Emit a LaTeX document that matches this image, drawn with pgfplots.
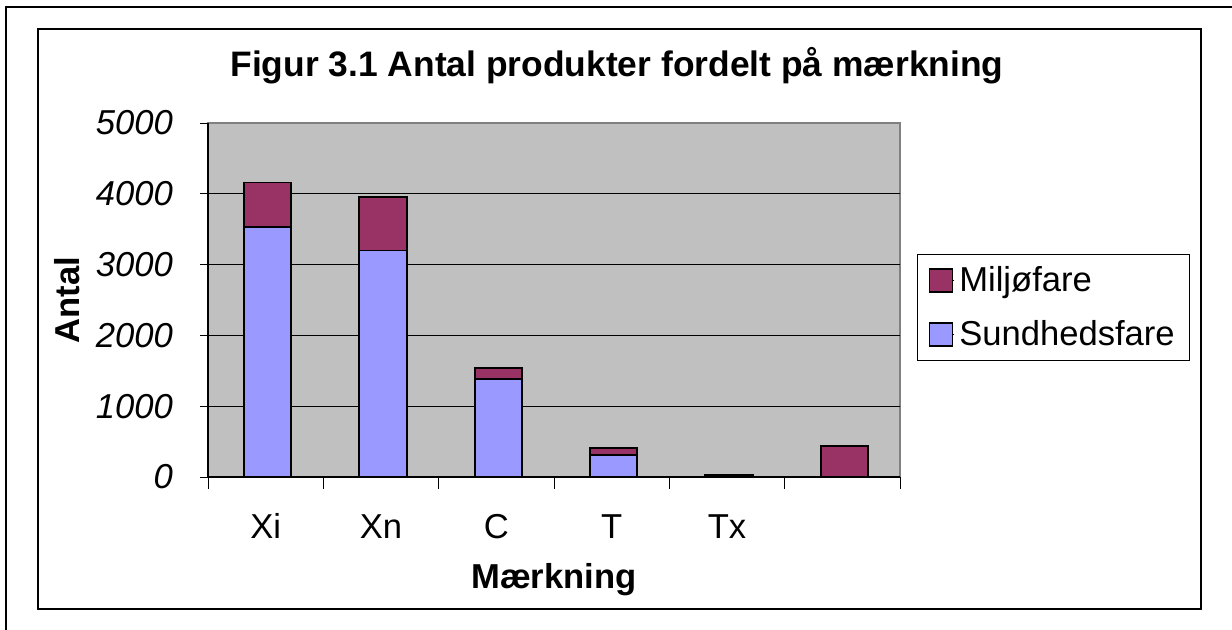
\documentclass[border=0pt]{standalone}
\usepackage{fontspec}
\setmainfont{Liberation Sans}
\setsansfont{Liberation Sans}
\usepackage{pgfplots}
\usepackage{pgfplotstable}
\pgfplotsset{compat=1.18}

\definecolor{sund}{HTML}{9999FF}
\definecolor{milj}{HTML}{993366}
\definecolor{plotgray}{HTML}{C0C0C0}
\definecolor{framegray}{HTML}{808080}
\newcommand{\chartfont}{\fontsize{17.3}{20.3}\selectfont}

% x: 0=Xi 1=Xn 2=C 3=T 4=Tx 5=(blank)
\pgfplotstableread{
x sund milj
0 3530 630
1 3200 760
2 1380 160
3 310  100
4 12   14
5 0    440
}\datatable

\begin{document}
\begin{tikzpicture}
% frame and title, in pixel units of the reference
\begin{scope}[x=0.5pt,y=-0.5pt]
  \useasboundingbox (0,0) rectangle (1232,630);
  \draw[line width=1pt] (6,630) -- (6,7) -- (1232,7);
  \draw[line width=0.8pt] (38,29) rectangle (1201,609);
  \node[font=\fontsize{17.7}{21}\selectfont\bfseries, anchor=base, inner sep=0pt] at (617,77)
    {Figur 3.1 Antal produkter fordelt på mærkning};
\end{scope}

\begin{axis}[
  at={(104pt,-238.5pt)}, anchor=south west,
  width=346pt, height=177pt, scale only axis,
  ybar stacked, bar width=0.41, bar shift=1pt,
  xmin=-0.5, xmax=5.5, ymin=0, ymax=5000,
  xtick={0,...,5}, xticklabels={Xi,Xn,C,T,Tx,{}},
  minor xtick={-0.5,0.5,...,5.5},
  ytick={0,1000,...,5000},
  extra y ticks={1000,2000,3000,4000},
  extra y tick labels={},
  extra y tick style={grid=major, major grid style={black, line width=0.5pt}},
  axis x line*=bottom, axis y line*=left,
  axis line style={black, line width=0.8pt, -},
  axis background/.style={fill=plotgray, draw=framegray, line width=0.8pt},
  tick align=outside,
  major tick length=4pt, minor tick length=6pt,
  major x tick style={draw=none},
  tick style={black, line width=0.5pt},
  /pgf/number format/assume math mode=true,
  /pgf/number format/1000 sep={},
  every tick label/.append style={font=\chartfont},
  xticklabel style={anchor=base, yshift=-26.9pt},
  yticklabel style={font=\chartfont\itshape, xshift=-10pt},
  xlabel={Mærkning}, ylabel={Antal},
  every axis label/.append style={font=\chartfont\bfseries},
  every axis x label/.style={at={(axis description cs:0.5,-0.3136)}, anchor=base},
  every axis y label/.style={at={(axis description cs:-0.186,0.5)}, rotate=90, anchor=base},
  reverse legend,
  legend style={at={(axis description cs:1,0.5)}, anchor=west,
    xshift=8.5pt, yshift=-3.75pt, draw=black, line width=0.5pt,
    font=\chartfont, row sep=9pt, cells={anchor=west},
    inner xsep=5.5pt, inner ysep=4pt},
  legend image code/.code={
    \path (0pt,0pt) -- (12.5pt,0pt);
    \draw[#1, line width=0.8pt] (0pt,-5.75pt) rectangle (11.5pt,5.75pt);},
]
\addplot[fill=sund, draw=black, line width=0.9pt] table[x=x, y=sund] {\datatable};
\addlegendentry{Sundhedsfare}
\addplot[fill=milj, draw=black, line width=0.9pt] table[x=x, y=milj] {\datatable};
\addlegendentry{Miljøfare}
\end{axis}
\end{tikzpicture}
\end{document}
